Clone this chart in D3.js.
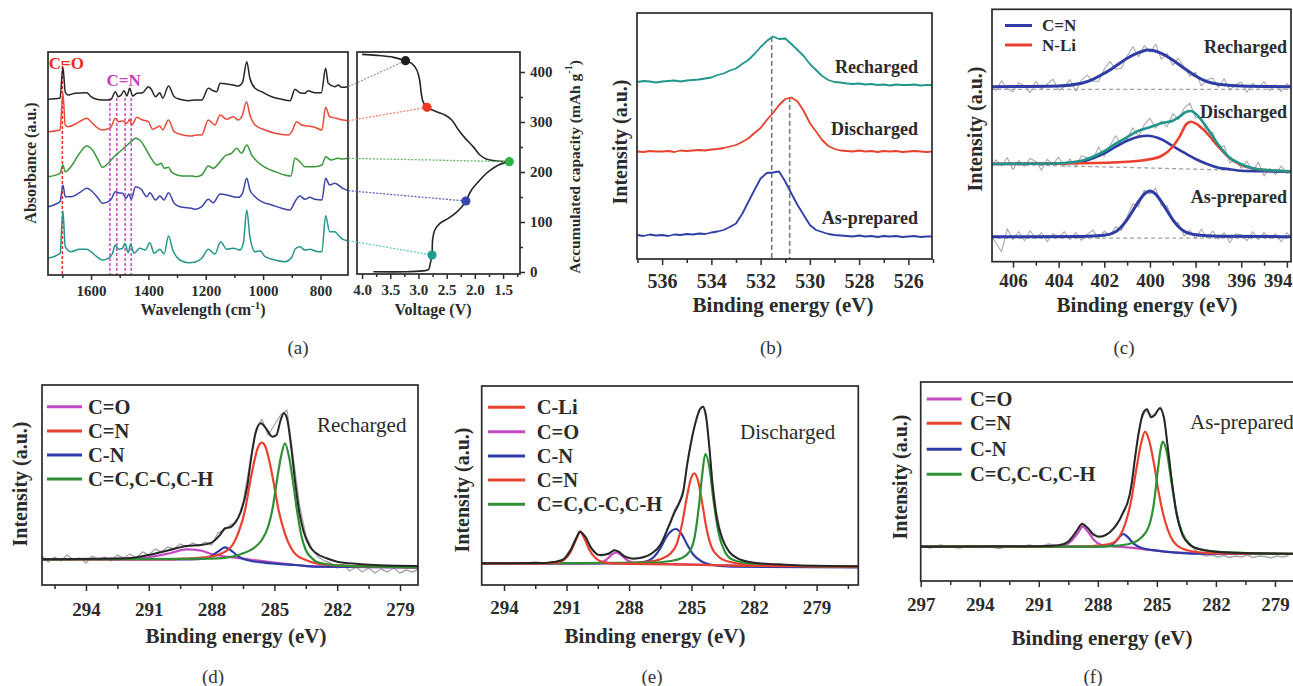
<!DOCTYPE html>
<html>
<head>
<meta charset="utf-8">
<script src="https://cdn.jsdelivr.net/npm/d3@7"></script>
<style>
  body { margin: 0; background: #fff; }
  svg { display: block; }
</style>
</head>
<body>
<svg id="fig" width="1293" height="686"></svg>
<script>
// ---------------- (a) FTIR spectra, stacked, arbitrary units ----------------
const ftirBlack = [[1750,175.7],[1708,177],[1698,207.7],[1690,183.3],[1680,180],[1655,181.7],[1615,182.3],[1600,178.3],[1580,175.7],[1560,175],[1540,175],[1530,175.7],[1515,183.3],[1505,178.3],[1495,180],[1485,184.3],[1475,179],[1465,186.7],[1455,179],[1440,181.7],[1420,182.3],[1400,188.3],[1390,185.7],[1375,178.3],[1360,182.3],[1350,176.7],[1330,189],[1310,178.3],[1290,175.7],[1260,174.3],[1234,175],[1214,175],[1191,186.7],[1174,184.3],[1162,183.3],[1150,191.7],[1127,191],[1104,190],[1086,189],[1072,192.3],[1057,213.3],[1046,196.7],[1028,186.7],[1005,183.3],[970,178.3],[935,175.7],[906,174.3],[889,185.7],[872,182.3],[854,181.7],[843,184.3],[820,182.3],[797,182.3],[782,206.7],[773,191.7],[750,188.3],[738,190],[726,187.7],[703,188.3]];
const ftirRed = [[1750,143.3],[1708,145],[1698,181.7],[1690,150],[1680,148.3],[1650,151.7],[1630,155],[1615,156.7],[1600,153.3],[1580,147.7],[1560,145],[1545,145.7],[1530,148.3],[1515,156.7],[1505,153.3],[1490,154],[1475,151.7],[1465,155.7],[1458,150],[1440,157.7],[1420,155],[1400,153.3],[1385,145.7],[1360,149],[1350,145],[1330,155],[1310,143.3],[1280,140],[1250,139],[1234,140],[1214,140],[1191,155],[1168,150],[1150,160],[1127,155.7],[1104,158.3],[1086,155],[1072,160],[1058,173.3],[1046,160],[1028,150],[993,145],[958,141.7],[912,140],[900,143.3],[883,153.3],[866,150],[843,149],[820,147.7],[795,145],[782,167.7],[768,158.3],[745,156.7],[722,155],[703,154.3]];
const ftirGreen = [[1750,98.3],[1708,101.7],[1698,110],[1690,103.3],[1670,108.3],[1640,121.7],[1615,129],[1595,125],[1575,115],[1560,107.7],[1540,111.7],[1520,118.3],[1500,123.3],[1480,128.3],[1460,133.3],[1445,136.7],[1430,135],[1410,126.7],[1390,116.7],[1370,110],[1355,111.7],[1345,106.7],[1330,107.7],[1320,103.3],[1300,100],[1280,99],[1250,99],[1234,98.3],[1214,100],[1191,109],[1174,106.7],[1150,113.3],[1133,119],[1110,121.7],[1092,126.7],[1075,121.7],[1057,130],[1040,120],[1016,112.3],[993,107.7],[958,103.3],[924,100],[903,99],[889,116.7],[872,113.3],[854,108.3],[820,108.3],[795,110],[782,118.3],[763,115],[738,116.7],[722,116],[703,116.7]];
const ftirBlue = [[1750,68.3],[1708,73.3],[1698,90],[1690,78.3],[1670,78.3],[1640,82.3],[1615,86.7],[1595,83.3],[1575,76.7],[1560,71.7],[1540,73.3],[1530,75.7],[1515,83.3],[1505,82.3],[1490,81.7],[1478,76.7],[1468,81],[1460,75.7],[1445,88.3],[1425,85.7],[1405,78.3],[1395,82.3],[1375,75],[1360,79],[1345,75],[1330,82.3],[1310,71.7],[1290,68.3],[1250,66.7],[1234,65.7],[1214,68.3],[1191,75.7],[1174,72.3],[1150,81],[1127,80],[1104,78.3],[1086,77.7],[1072,81.7],[1057,96.7],[1046,85],[1028,78.3],[1005,73.3],[970,70],[935,66.7],[906,65],[889,73.3],[872,79],[854,75.7],[837,77.7],[820,75.7],[795,75],[782,96.7],[768,90],[750,91.7],[722,86.7],[703,84.3]];
const ftirTeal = [[1750,16.7],[1708,21.7],[1698,64],[1690,28.3],[1670,23.3],[1640,25.7],[1615,25.7],[1600,23.3],[1580,18.3],[1560,15],[1540,16.7],[1525,21.7],[1515,30],[1505,25.7],[1490,26.7],[1482,31.7],[1470,22.3],[1462,31],[1450,21.7],[1430,26.7],[1410,25],[1395,32.3],[1380,21.7],[1360,25.7],[1345,21],[1330,39],[1315,25],[1290,15],[1260,12.3],[1234,13.3],[1214,16.7],[1191,25.7],[1168,21],[1148,33.3],[1127,25.7],[1104,26.7],[1081,25],[1069,31.7],[1057,65],[1046,38.3],[1028,23.3],[1011,24.3],[993,18.3],[958,15],[924,13.3],[900,17.7],[889,25.7],[872,28.3],[854,25],[837,25.7],[808,23.3],[795,23.3],[782,59.3],[768,43.3],[750,43.3],[738,40],[722,35.7],[703,34.3]];
const coBand = 1700;
const cnBands = [1534, 1510, 1481, 1460];

// ---------------- (a) voltage profile: [voltage, capacity] ----------------
const dischargeCurve = [[3.80,0.6],[3.21,0.6],[2.88,2.7],[2.82,5.3],[2.79,17.3],[2.76,34],[2.75,64],[2.71,84],[2.62,97.3],[2.47,107.3],[2.35,117.3],[2.23,130.7],[2.16,142],[2.06,164],[1.91,184],[1.76,200.7],[1.58,214],[1.39,220.7]];
const chargeCurve = [[1.39,220.7],[1.61,222],[1.79,225.3],[1.91,234],[2.03,250.7],[2.17,267.3],[2.29,284],[2.41,304],[2.53,314],[2.68,320.7],[2.85,329.3],[2.92,340.7],[2.95,357.3],[2.98,384],[3.03,404],[3.12,417.3],[3.23,422.7],[3.44,429.3],[3.74,433.3],[4.0,435.3]];
const stateVoltage = [3.23, 2.85, 1.39, 2.16, 2.76];
const stateCapacity = [422.7, 329.3, 220.7, 142, 34];

// ---------------- (b) O 1s ----------------
const o1sRecharged = [[537,177],[536.75,178],[536.5,177.5],[536.25,176.5],[536,177.5],[535.75,178],[535.5,178.5],[535.25,177.5],[535,178.5],[534.75,179],[534.5,179.5],[534.25,180.5],[534,181.5],[533.75,184],[533.5,185.5],[533.25,188.5],[533,190.5],[532.75,195],[532.5,199],[532.25,205],[532,212],[531.75,218],[531.5,222.5],[531.25,220],[531,220.5],[530.75,215],[530.5,209],[530.25,203],[530,195],[529.75,189],[529.5,183],[529.25,179],[529,177],[528.75,176.5],[528.5,175.5],[528.25,175],[528,175.5],[527.75,174.5],[527.5,175],[527.25,174],[527,174.5],[526.75,173.5],[526.5,174.5],[526.25,174],[526,174],[525.75,174.5],[525.5,173.5],[525.25,174],[525,174]];
const o1sDischarged = [[537,107.5],[536.75,107],[536.5,108],[536.25,107.5],[536,107.5],[535.75,108],[535.5,107],[535.25,108.5],[535,108],[534.75,108.5],[534.5,109],[534.25,108.5],[534,109.5],[533.75,110],[533.5,111],[533.25,112.5],[533,114],[532.75,117],[532.5,120.5],[532.25,126],[532,131],[531.75,139],[531.5,146],[531.25,154],[531,160],[530.75,161.5],[530.5,157.5],[530.25,148],[530,136],[529.75,127.5],[529.5,119],[529.25,113],[529,110],[528.75,108.5],[528.5,108],[528.25,107.5],[528,108.5],[527.75,107.5],[527.5,108],[527.25,107],[527,108],[526.75,107.5],[526.5,108],[526.25,107],[526,107.5],[525.75,108],[525.5,107.5],[525.25,107],[525,107.5]];
const o1sPrepared = [[537,24],[536.75,23],[536.5,24.5],[536.25,23.5],[536,24],[535.75,23],[535.5,24.5],[535.25,24],[535,25],[534.75,24.5],[534.5,25.5],[534.25,25],[534,26.5],[533.75,27.5],[533.5,29],[533.25,32],[533,35.5],[532.75,45],[532.5,57],[532.25,69],[532,80.5],[531.75,86],[531.5,86.5],[531.25,87.5],[531,77.5],[530.75,65.5],[530.5,54],[530.25,44],[530,34],[529.75,29],[529.5,27],[529.25,25],[529,24],[528.75,23.5],[528.5,23],[528.25,22.5],[528,23.5],[527.75,22.5],[527.5,23],[527.25,22],[527,23],[526.75,22.5],[526.5,23],[526.25,22],[526,22.5],[525.75,23],[525.5,22],[525.25,22.5],[525,22.5]];
const o1sMarkers = [[531.55, 222], [530.82, 162]];
const o1sStates = ['Recharged', 'Discharged', 'As-prepared'];

// ---------------- (c) N 1s ----------------
const n1sRechFit = [[407,175],[404,175.7],[403,178.4],[402.5,182.4],[402,188.4],[401.5,195.7],[401,203.4],[400.5,209],[400.1,211.7],[399.5,208.4],[399,201.7],[398.5,193.4],[398,185.7],[397.5,180],[397,177.4],[396,175.7],[393.7,175]];
const n1sRechRaw = [[407,178],[406.75,171],[406.5,181],[406.25,173],[406,170],[405.75,179],[405.5,176],[405.25,169],[405,180.5],[404.75,172.5],[404.5,177.5],[404.25,182.5],[404,171.5],[403.75,175],[403.5,182],[403.25,170.5],[403,181.5],[402.75,186.5],[402.5,180.5],[402.25,180.5],[402,192.5],[401.75,200],[401.5,192.5],[401.25,193.5],[401,205.5],[400.75,215],[400.5,205],[400.25,216],[400,209.5],[399.75,217.5],[399.5,202.5],[399.25,208],[399,196.5],[398.75,203.5],[398.5,194.5],[398.25,185.5],[398,189.5],[397.75,175.8],[397.5,182],[397.25,183.7],[397,174.5],[396.75,183],[396.5,171.5],[396.25,177],[396,179.7],[395.75,169.5],[395.5,178.5],[395.25,173.5],[395,180],[394.75,171],[394.5,177],[394.25,170],[394,178],[393.75,174]];
const n1sRechBase = [[407,172.4],[393.7,172.4]];
const n1sDisCN = [[407,97.7],[404,98.4],[403,100],[402.5,103.4],[402,108.4],[401.5,115],[401,121],[400.5,125],[400.1,126],[399.5,122.4],[399,115.7],[398.5,109],[398,102.7],[397.5,97.7],[397,94],[396.5,92.4],[396,91],[395,90.4],[393.7,89.7]];
const n1sDisNLi = [[407,97.7],[403,98.4],[401,100],[400,102.4],[399.5,105.7],[399,115],[398.7,125],[398.4,137.7],[398.2,140],[398,138.4],[397.5,128.4],[397,115],[396.5,103.4],[396,96.7],[395.5,93.4],[395,91.7],[393.7,90.4]];
const n1sDisSum = [[407,97.7],[404,98.5],[403,101],[402.5,105],[402,110.5],[401.5,118],[401,124.5],[400.5,131],[400,134.5],[399.5,138.5],[399,141],[398.7,145],[398.4,150],[398.2,150.7],[398,148],[397.5,134],[397,117],[396.5,104],[396,97.5],[395.5,93.5],[395,91.8],[393.7,90.2]];
const n1sDisRaw = [[407,92.7],[406.75,101.8],[406.5,95.9],[406.25,104],[406,92.1],[405.75,101.2],[405.5,95.2],[405.25,103.3],[405,100.3],[404.75,91.4],[404.5,102.4],[404.25,97.5],[404,104.5],[403.75,95],[403.5,102.8],[403.25,94.4],[403,106],[402.75,104],[402.5,102],[402.25,114.8],[402,105.5],[401.75,116],[401.5,126],[401.25,117.2],[401,122.5],[400.75,134],[400.5,125],[400.25,137],[400,143.5],[399.75,133.5],[399.5,140.5],[399.25,134.8],[399,148],[398.75,142],[398.5,153.5],[398.25,158.5],[398,144],[397.75,144],[397.5,128],[397.25,129.5],[397,114],[396.75,116],[396.5,99],[396.25,102],[396,93.5],[395.75,100.5],[395.5,90.5],[395.25,99.5],[395,85.8],[394.75,93.3],[394.5,87],[394.25,95.7],[394,88.4],[393.75,93.2]];
const n1sDisBase = [[407,97.7],[393.7,90]];
const n1sPrepFit = [[407,25],[403,25.3],[402,26.5],[401.5,30],[401.25,35],[401,42],[400.75,51],[400.5,60],[400.25,67.5],[400,70.7],[399.75,67.5],[399.5,60],[399.25,51],[399,42],[398.75,35],[398.5,30.5],[398,27],[397,25.5],[393.7,25]];
const n1sPrepRaw = [[407,27],[406.75,19],[406.5,10],[406.25,33],[406,22],[405.75,30],[405.5,21],[405.25,31],[405,23],[404.75,29],[404.5,20],[404.25,28],[404,24],[403.75,30],[403.5,22],[403.25,29.2],[403,21.3],[402.75,27.4],[402.5,31.6],[402.25,23],[402,30.5],[401.75,26],[401.5,35],[401.25,31],[401,45],[400.75,58],[400.5,55],[400.25,71.5],[400,67.7],[399.75,73.5],[399.5,56],[399.25,56],[399,40],[398.75,39],[398.5,25.5],[398.25,31.5],[398,23],[397.75,32.5],[397.5,24],[397.25,30.7],[397,22.5],[396.75,29],[396.5,19],[396.25,28],[396,27],[395.75,21],[395.5,30],[395.25,22],[395,29],[394.75,23],[394.5,28],[394.25,20],[394,29],[393.75,23]];
const n1sPrepBase = [[407,23.5],[393.7,23.5]];

// ---------------- (d) C 1s recharged ----------------
const dCO = [[296.1,25.7],[292,26.3],[291,27.7],[290,31.7],[289.2,35.7],[288.5,34.3],[288,31],[287.5,29],[287,27.7],[286,25],[285,22.3],[284,20],[283,18.3],[278.1,17.7]];
const dCNd = [[296.1,25.5],[290,25.6],[289,26.7],[288,28.3],[287.5,31.7],[287,40],[286.7,53.3],[286.4,75],[286.2,98.3],[286,120],[285.8,136.7],[285.6,142.3],[285.4,136.7],[285.2,120],[285,98.3],[284.8,75],[284.5,51.7],[284.2,36.7],[284,31],[283.5,25],[283,21.7],[282,19.7],[280,18.3],[278.1,17.7]];
const dCNs = [[296.1,25.7],[289,25.7],[288.3,26.7],[288,29],[287.7,33.3],[287.35,37.7],[287,33.3],[286.7,28.3],[286.3,25],[285.5,22.3],[284,20],[283,18.3],[278.1,17.7]];
const dCC = [[296.1,25.6],[288,26.3],[287,28.3],[286.5,31.7],[286,36.7],[285.6,45],[285.3,58.3],[285.1,75],[284.9,101.7],[284.7,126.7],[284.5,141.7],[284.3,128.3],[284.1,101.7],[283.9,71.7],[283.7,48.3],[283.5,35],[283.2,26.7],[283,23.3],[282,19.7],[280,18.3],[278.1,17.7]];
const dSum = [[296.1,25.7],[292,26.7],[291,30],[290,35],[289.2,39],[288.5,40],[288,42.3],[287.6,50],[287.35,56.7],[287.1,57.7],[286.9,61.7],[286.6,73.3],[286.3,98.3],[286.1,128.3],[285.9,151.7],[285.65,161.7],[285.4,156.7],[285.1,148.3],[284.9,150],[284.7,165],[284.55,171.7],[284.4,166.7],[284.2,138.3],[284,101.7],[283.8,71.7],[283.6,53.3],[283.3,38.3],[283,31.7],[282.5,26.7],[282,23.3],[281,21],[280,19.7],[278.1,19]];
const dRaw = [[296.1,29],[295.8,23],[295.5,28],[295.2,24],[294.9,30],[294.6,25],[294.3,27],[294,22],[293.7,29],[293.4,25],[293.1,28],[292.8,24],[292.5,30],[292.2,27],[291.9,31],[291.6,27],[291.3,33],[291,30],[290.7,36],[290.4,33],[290.1,38],[289.8,36],[289.5,41],[289.2,38],[288.9,42],[288.6,39],[288.3,43],[288,40],[287.7,52],[287.4,55],[287.1,60],[286.8,63],[286.5,82],[286.2,118],[285.9,155],[285.6,166],[285.3,150],[285,160],[284.7,170],[284.4,175],[284.1,128],[283.8,80],[283.5,50],[283.2,36],[282.9,28],[282.6,24],[282.3,22],[282,17],[281.7,20],[281.4,14],[281.1,18],[280.8,13],[280.5,17],[280.2,12],[279.9,16],[279.6,13],[279.3,17],[279,12],[278.7,15],[278.4,13],[278.1,16]];

// ---------------- (e) C 1s discharged ----------------
const eCLi = [[295.07,21.7],[292,21.7],[291.5,22.3],[291.1,25.7],[290.8,33.3],[290.55,45],[290.35,53.3],[290.15,46.7],[289.9,35],[289.6,26.7],[289.2,22.7],[288.5,21.3],[286,20.7],[283,19.3],[277,18.3]];
const eCO = [[295.07,21.7],[289.5,21.7],[289.1,25],[288.85,30],[288.6,32.7],[288.35,29.3],[288.05,24.3],[287.6,21.7],[286,21],[284,20],[282,19],[277,18.3]];
const eCNs = [[295.07,21.7],[288,21.7],[287.2,23.3],[286.8,28.3],[286.5,36.7],[286.2,48.3],[285.95,54.3],[285.75,56],[285.5,51.7],[285.2,40],[284.9,30],[284.5,23.3],[284,20],[283,18.3],[277,17.7]];
const eCNd = [[295.07,21.7],[288,22],[287,23.3],[286.5,25.7],[286,31.7],[285.7,41.7],[285.45,61.7],[285.25,85],[285.05,105],[284.87,111.7],[284.7,105],[284.5,83.3],[284.3,58.3],[284.05,38.3],[283.7,28.3],[283.2,23.3],[282,20],[277,18.3]];
const eCC = [[295.07,21.7],[287,22.3],[286,24],[285.5,26.7],[285.1,33.3],[284.85,48.3],[284.65,78.3],[284.5,108.3],[284.34,131],[284.15,118.3],[283.95,85],[283.7,51.7],[283.4,33.3],[283,25],[282,21],[280,19],[277,18.3]];
const eSum = [[295.07,21.7],[292,22],[291.2,25],[290.8,35],[290.5,48.3],[290.35,53.3],[290.1,48.3],[289.8,36.7],[289.4,30],[289,31],[288.7,34.7],[288.5,33.3],[288.2,28.3],[287.8,26.3],[287.3,27.7],[286.9,31.7],[286.5,40],[286.1,58.3],[285.8,73.3],[285.6,81.7],[285.4,93.3],[285.2,121.7],[285,145],[284.8,163.3],[284.6,175.7],[284.45,178.3],[284.3,168.3],[284.15,138.3],[284,101.7],[283.8,68.3],[283.5,45],[283.2,33.3],[282.8,26.7],[282,22.3],[281,20.7],[280,19.7],[277,18.7]];
const eRaw = [[295.07,22],[294.5,21],[294,22.5],[293.5,21.5],[293,22],[292.5,23],[292,21.5],[291.7,23.5],[291.4,22],[291.1,27],[290.8,36],[290.55,47],[290.35,54],[290.15,47],[289.9,38],[289.6,31],[289.3,29],[289,32],[288.7,35],[288.45,33],[288.2,29],[287.9,27],[287.6,26.5],[287.3,28.5],[287,30],[286.7,35],[286.4,44],[286.1,60],[285.8,76],[285.6,83],[285.4,95],[285.2,124],[285,147],[284.8,164],[284.6,176],[284.45,179],[284.3,166],[284.15,140],[284,104],[283.8,72],[283.6,52],[283.4,41],[283.2,33],[283,29],[282.7,26],[282.4,24],[282,22],[281.6,21.5],[281.2,20],[280.8,21],[280.4,19.5],[280,20],[279.5,18.5],[279,19.5],[278.5,18],[278,19],[277.5,17.5],[277,18.5]];

// ---------------- (f) C 1s as-prepared ----------------
const fCO = [[297,34.3],[290.5,34.3],[289.8,35.3],[289.3,41],[289,48.3],[288.77,54.3],[288.5,49.3],[288.2,41],[287.8,36],[287,34.3],[286,32.7],[285,30.3],[284,28.3],[282,27.3],[277.9,27]];
const fCNs = [[297,34.3],[288,34.3],[287.4,35.3],[287.1,39.3],[286.85,45],[286.7,47],[286.5,44.3],[286.2,37.7],[285.8,33.3],[285,30.3],[284,28.3],[283,27.3],[277.9,27]];
const fCNd = [[297,34.3],[289,34.3],[288,35.3],[287.3,37.7],[286.9,44.3],[286.6,57.7],[286.3,81],[286.05,111],[285.8,137.7],[285.6,149.3],[285.4,141],[285.15,117.7],[284.9,87.7],[284.6,61],[284.3,44.3],[284,36],[283.5,31],[283,29],[282,27.7],[277.9,27]];
const fCC = [[297,34.3],[288,34.3],[287,35.3],[286.3,37.7],[285.8,43.3],[285.4,55],[285.15,77.7],[284.95,111],[284.8,132.7],[284.7,139.3],[284.5,129.3],[284.25,97.7],[284,67.7],[283.7,47.7],[283.3,36],[283,32.7],[282,29.3],[280,27.7],[277.9,27]];
const fSum = [[297,34.3],[291,34.7],[290,35.7],[289.5,39.3],[289.1,49.3],[288.8,57],[288.5,52.7],[288.2,46],[287.9,44.3],[287.6,46],[287.2,52.7],[286.9,61],[286.7,69.3],[286.5,77.7],[286.3,94.3],[286.1,124.3],[285.9,151],[285.7,167.7],[285.5,171.7],[285.3,163.7],[285.1,166],[284.85,172.7],[284.65,164.3],[284.45,134.3],[284.2,94.3],[284,67.7],[283.7,46],[283.3,36],[283,32.7],[282,29.3],[280,27.7],[277.9,27.3]];
const fRaw = [[297,35],[296.5,33],[296,36],[295.5,34],[295,33],[294.5,35.5],[294,33.5],[293.5,34],[293,32.5],[292.5,35],[292,33.5],[291.5,36],[291,34],[290.5,37],[290,35],[289.6,38.5],[289.3,45],[289,52],[288.8,58],[288.6,55],[288.3,49],[288,45],[287.7,44.5],[287.4,48],[287.1,54],[286.8,64],[286.6,72],[286.4,84],[286.2,112],[286,140],[285.8,160],[285.6,170],[285.4,168],[285.2,165],[285,170],[284.8,174],[284.6,160],[284.4,128],[284.2,92],[284,66],[283.7,47],[283.4,38],[283.1,32],[282.8,27],[282.5,25],[282.2,26],[281.9,24],[281.6,25.5],[281.3,23.5],[281,25],[280.7,24],[280.4,26],[280.1,23.5],[279.8,25],[279.5,24.5],[279.2,23],[278.9,25],[278.6,24],[278.3,25.5]];

// ---------------- drawing ----------------
const FONT = '"Liberation Serif", "DejaVu Serif", serif';
const INK = '#2b2b2b';
const W = 1293;
const C = {
  black: '#262626', red: '#e8412f', green: '#2f8f35', blue: '#2f3ca6',
  teal: '#21958b', magenta: '#c24bc2', gray: '#a9a9a9'
};

const svg = d3.select('#fig').attr('font-family', FONT);
const defs = svg.append('defs');

function panel(o) {
  const x = d3.scaleLinear().domain(o.xDomain).range([o.left, o.right]);
  const y = d3.scaleLinear().domain(o.yDomain).range([o.bottom, o.top]);
  const id = 'clip-' + o.name;
  defs.append('clipPath').attr('id', id).append('rect')
    .attr('x', o.left).attr('y', o.top)
    .attr('width', o.right - o.left).attr('height', o.bottom - o.top);
  const g = svg.append('g');
  const plot = g.append('g').attr('clip-path', `url(#${id})`);

  const minorAx = g.append('g').attr('transform', `translate(0,${o.bottom})`)
    .call(d3.axisBottom(x).tickValues(o.minor).tickSize(o.minorLen).tickFormat(''));
  const majorAx = g.append('g').attr('transform', `translate(0,${o.bottom})`)
    .call(d3.axisBottom(x).tickValues(o.major).tickSize(o.tickLen)
      .tickPadding(o.pad).tickFormat(o.fmt || d3.format('d')));
  [minorAx, majorAx].forEach(a => {
    a.select('.domain').remove();
    a.attr('color', INK).attr('font-family', FONT);
    a.selectAll('line').attr('stroke-width', 1.5);
  });
  majorAx.attr('font-size', o.fs).attr('font-weight', 'bold');
  // keep labels at the picture's right edge inside it
  majorAx.selectAll('text').each(function (d) {
    const half = this.getComputedTextLength() / 2;
    const over = x(d) + half - (W - 1);
    if (over > 0) d3.select(this).attr('dx', -over);
  });

  g.append('rect')
    .attr('x', o.left).attr('y', o.top)
    .attr('width', o.right - o.left).attr('height', o.bottom - o.top)
    .attr('fill', 'none').attr('stroke', INK).attr('stroke-width', 1.7);
  return { x, y, g, plot };
}

function line(p, data, color, width, curve, dash) {
  return p.plot.append('path').datum(data)
    .attr('fill', 'none').attr('stroke', color).attr('stroke-width', width)
    .attr('stroke-linejoin', 'round')
    .attr('stroke-dasharray', dash || null)
    .attr('d', d3.line().x(d => p.x(d[0])).y(d => p.y(d[1])).curve(curve || d3.curveLinear));
}

function text(x, y, str, size, opts = {}) {
  return svg.append('text').attr('x', x).attr('y', y)
    .attr('font-size', size).attr('font-weight', opts.weight || 'bold')
    .attr('fill', opts.fill || INK).attr('text-anchor', opts.anchor || 'start')
    .attr('dominant-baseline', 'central').text(str);
}

function vtitle(x, y, str, size) {
  return svg.append('text')
    .attr('transform', `translate(${x},${y}) rotate(-90)`)
    .attr('font-size', size).attr('font-weight', 'bold').attr('fill', INK)
    .attr('text-anchor', 'middle').attr('dominant-baseline', 'central').text(str);
}

function legend(x0, x1, tx, ys, items, size) {
  items.forEach((it, i) => {
    svg.append('line').attr('x1', x0).attr('x2', x1).attr('y1', ys[i]).attr('y2', ys[i])
      .attr('stroke', it[1]).attr('stroke-width', 3);
    text(tx, ys[i], it[0], size);
  });
}

const smooth = d3.curveMonotoneX;

// ---- (a) left: FTIR ----
const pa = panel({ name: 'a1', left: 48, right: 348, top: 52, bottom: 275,
  xDomain: [1750, 704], yDomain: [0, 223],
  major: [1600, 1400, 1200, 1000, 800], minor: [1700, 1500, 1300, 1100, 900],
  tickLen: 5, minorLen: 3, pad: 5, fs: 15 });
const spectra = [ftirBlack, ftirRed, ftirGreen, ftirBlue, ftirTeal];
const specColors = [C.black, '#e84a3a', '#3a963a', '#3a44aa', '#24968e'];
pa.plot.append('line')
  .attr('x1', pa.x(coBand)).attr('x2', pa.x(coBand)).attr('y1', pa.y(214)).attr('y2', pa.y(0))
  .attr('stroke', '#ee2a22').attr('stroke-width', 1.5).attr('stroke-dasharray', '3,2');
cnBands.forEach(b => pa.plot.append('line')
  .attr('x1', pa.x(b)).attr('x2', pa.x(b)).attr('y1', pa.y(177)).attr('y2', pa.y(0))
  .attr('stroke', '#c94ac9').attr('stroke-width', 1.5).attr('stroke-dasharray', '3,2'));
spectra.forEach((s, i) => line(pa, s, specColors[i], 1.5, smooth));
text(pa.x(coBand) + 4, 63, 'C=O', 17, { anchor: 'middle', fill: '#ee2a22' });
text(pa.x(1497) + 3, 80, 'C=N', 17, { anchor: 'middle', fill: '#c240c2' });

// ---- (a) right: voltage profile ----
const pv = panel({ name: 'a2', left: 357, right: 520, top: 52, bottom: 274,
  xDomain: [4.09, 1.2], yDomain: [-4, 440],
  major: [4, 3.5, 3, 2.5, 2, 1.5], minor: [3.75, 3.25, 2.75, 2.25, 1.75, 1.25],
  fmt: d3.format('.1f'), tickLen: 5, minorLen: 3, pad: 5, fs: 15 });
[[0, 100, 200, 300, 400], [50, 150, 250, 350]].forEach((vals, k) => {
  const ax = pv.g.append('g').attr('transform', 'translate(520,0)')
    .call(d3.axisRight(pv.y).tickValues(vals).tickSize(k ? 3 : 5).tickPadding(5)
      .tickFormat(k ? '' : d3.format('d')));
  ax.select('.domain').remove();
  ax.attr('color', INK).attr('font-family', FONT).attr('font-size', 15).attr('font-weight', 'bold');
  ax.selectAll('line').attr('stroke-width', 1.5);
});
[dischargeCurve, chargeCurve].forEach(c => line(pv, c, C.black, 1.6, d3.curveCatmullRom.alpha(0.5)));

// connectors from spectra to the voltage profile
const linkColors = ['#9a9a9a', '#f4877a', '#67b867', '#6464c6', '#68c4de'];
const dotColors = ['#1e1e1e', '#f2361f', '#2cb34a', '#3346b0', '#1e9e92'];
spectra.forEach((s, i) => {
  const last = s[s.length - 1];
  svg.append('line')
    .attr('x1', pa.x(last[0])).attr('y1', pa.y(last[1]))
    .attr('x2', pv.x(stateVoltage[i])).attr('y2', pv.y(stateCapacity[i]))
    .attr('stroke', linkColors[i]).attr('stroke-width', 1.3).attr('stroke-dasharray', '2,1.5');
});
stateVoltage.forEach((v, i) => svg.append('circle')
  .attr('cx', pv.x(v)).attr('cy', pv.y(stateCapacity[i])).attr('r', 4.6).attr('fill', dotColors[i]));

const wl = svg.append('text').attr('x', 203).attr('y', 315).attr('font-size', 16)
  .attr('font-weight', 'bold').attr('fill', INK).attr('text-anchor', 'middle');
wl.append('tspan').text('Wavelength (cm');
wl.append('tspan').attr('font-size', 11).attr('dy', -6).text('-1');
wl.append('tspan').attr('dy', 6).text(')');
svg.append('text').attr('x', 433).attr('y', 315).attr('font-size', 16).attr('font-weight', 'bold')
  .attr('fill', INK).attr('text-anchor', 'middle').text('Voltage (V)');
vtitle(30, 163, 'Absorbance (a.u.)', 16);
const cap = svg.append('text').attr('transform', 'translate(574,167) rotate(-90)')
  .attr('font-size', 15.5).attr('font-weight', 'bold').attr('fill', INK)
  .attr('text-anchor', 'middle').attr('dominant-baseline', 'central');
cap.append('tspan').text('Accumulated capacity (mAh g');
cap.append('tspan').attr('font-size', 10).attr('dy', -6).text('-1');
cap.append('tspan').attr('dy', 6).text(')');

// ---- (b) O 1s ----
const pb = panel({ name: 'b', left: 637, right: 932, top: 13, bottom: 259,
  xDomain: [537.02, 525.04], yDomain: [0, 246],
  major: [536, 534, 532, 530, 528, 526], minor: [537, 535, 533, 531, 529, 527, 525],
  tickLen: 6, minorLen: 4, pad: 9, fs: 20 });
o1sMarkers.forEach(m => pb.plot.append('line')
  .attr('x1', pb.x(m[0])).attr('x2', pb.x(m[0])).attr('y1', pb.y(m[1])).attr('y2', pb.y(0))
  .attr('stroke', '#7a7a7a').attr('stroke-width', 1.6).attr('stroke-dasharray', '5,3'));
line(pb, o1sRecharged, '#1f968b', 1.8);
line(pb, o1sDischarged, '#e5412c', 1.8);
line(pb, o1sPrepared, '#2f3ea6', 1.8);
[67, 129, 218].forEach((yy, i) => text(918, yy, o1sStates[i], 18, { anchor: 'end' }));
text(783, 305, 'Binding energy (eV)', 21, { anchor: 'middle' });
vtitle(620, 142, 'Intensity (a.u.)', 20);

// ---- (c) N 1s ----
const pc = panel({ name: 'c', left: 992, right: 1291, top: 9.3, bottom: 261.7,
  xDomain: [406.92, 393.82], yDomain: [0, 252.4],
  major: [406, 404, 402, 400, 398, 396, 394], minor: [405, 403, 401, 399, 397, 395],
  tickLen: 6, minorLen: 4, pad: 6, fs: 19 });
[n1sRechRaw, n1sDisRaw, n1sPrepRaw].forEach(r => line(pc, r, C.gray, 1.1));
[n1sRechBase, n1sDisBase, n1sPrepBase].forEach(b => line(pc, b, '#a0a0a0', 1.3, null, '4,3'));
line(pc, n1sRechFit, C.blue, 3, smooth);
line(pc, n1sDisCN, C.blue, 2.6, smooth);
line(pc, n1sDisNLi, C.red, 2.6, smooth);
line(pc, n1sDisSum, C.teal, 2.6, smooth);
line(pc, n1sPrepFit, C.blue, 3, smooth);
legend(1005, 1032, 1042, [25.5, 45], [['C=N', C.blue], ['N-Li', C.red]], 17);
[47, 112, 197].forEach((yy, i) => text(1287, yy, o1sStates[i], 18, { anchor: 'end' }));
text(1147, 305, 'Binding energy (eV)', 21, { anchor: 'middle' });
vtitle(975, 129, 'Intensity (a.u.)', 20);

// ---- (d) C 1s recharged ----
const pd = panel({ name: 'd', left: 42, right: 418, top: 385, bottom: 585,
  xDomain: [296.1, 278.14], yDomain: [0, 200],
  major: [294, 291, 288, 285, 282, 279], minor: [295.5, 292.5, 289.5, 286.5, 283.5, 280.5],
  tickLen: 6, minorLen: 4, pad: 12, fs: 19 });
line(pd, dRaw, C.gray, 1.4);
line(pd, dCO, C.magenta, 2.2, smooth);
line(pd, dCNs, C.blue, 2.2, smooth);
line(pd, dCNd, C.red, 2.2, smooth);
line(pd, dCC, C.green, 2.2, smooth);
line(pd, dSum, C.black, 2, smooth);
legend(47, 82, 88, [406.7, 431, 455, 479],
  [['C=O', C.magenta], ['C=N', C.red], ['C-N', C.blue], ['C=C,C-C,C-H', C.green]], 20.5);
text(317, 425, 'Recharged', 21, { weight: 'normal' });
text(236, 636, 'Binding energy (eV)', 21, { anchor: 'middle' });
vtitle(20, 484, 'Intensity (a.u.)', 20);

// ---- (e) C 1s discharged ----
const pe = panel({ name: 'e', left: 481.7, right: 858.3, top: 386, bottom: 585,
  xDomain: [295.07, 277.0], yDomain: [0, 199],
  major: [294, 291, 288, 285, 282, 279], minor: [292.5, 289.5, 286.5, 283.5, 280.5, 277.5],
  tickLen: 6, minorLen: 4, pad: 10, fs: 19 });
line(pe, eRaw, C.gray, 1.4);
line(pe, eCO, C.magenta, 2.2, smooth);
line(pe, eCNs, C.blue, 2.2, smooth);
line(pe, eCNd, C.red, 2.2, smooth);
line(pe, eCC, C.green, 2.2, smooth);
line(pe, eCLi, C.red, 2.2, smooth);
line(pe, eSum, C.black, 2, smooth);
legend(488, 525, 536.7, [407.3, 431.7, 456, 480, 504.3],
  [['C-Li', C.red], ['C=O', C.magenta], ['C-N', C.blue], ['C=N', C.red], ['C=C,C-C,C-H', C.green]], 20.5);
text(740, 432, 'Discharged', 21, { weight: 'normal' });
text(655, 636, 'Binding energy (eV)', 21, { anchor: 'middle' });
vtitle(462, 490, 'Intensity (a.u.)', 20);

// ---- (f) C 1s as-prepared ----
const pf = panel({ name: 'f', left: 920.7, right: 1296, top: 382, bottom: 581,
  xDomain: [297, 277.93], yDomain: [0, 199],
  major: [297, 294, 291, 288, 285, 282, 279], minor: [295.5, 292.5, 289.5, 286.5, 283.5, 280.5],
  tickLen: 6, minorLen: 4, pad: 11, fs: 19 });
line(pf, fRaw, C.gray, 1.4);
line(pf, fCO, C.magenta, 2.2, smooth);
line(pf, fCNs, C.blue, 2.2, smooth);
line(pf, fCNd, C.red, 2.2, smooth);
line(pf, fCC, C.green, 2.2, smooth);
line(pf, fSum, C.black, 2, smooth);
legend(926.7, 961.7, 970, [399, 423.3, 449.3, 474.3],
  [['C=O', C.magenta], ['C=N', C.red], ['C-N', C.blue], ['C=C,C-C,C-H', C.green]], 20.5);
text(1190, 422, 'As-prepared', 21, { weight: 'normal' });
text(1102, 638, 'Binding energy (eV)', 21, { anchor: 'middle' });
vtitle(900, 477, 'Intensity (a.u.)', 20);

// ---- captions ----
[['(a)', 298, 347], ['(b)', 771, 347], ['(c)', 1124, 347],
 ['(d)', 213, 676], ['(e)', 652, 676], ['(f)', 1093, 676]]
  .forEach(c => text(c[1], c[2], c[0], 19, { weight: 'normal', anchor: 'middle', fill: '#333' }));
</script>
</body>
</html>
